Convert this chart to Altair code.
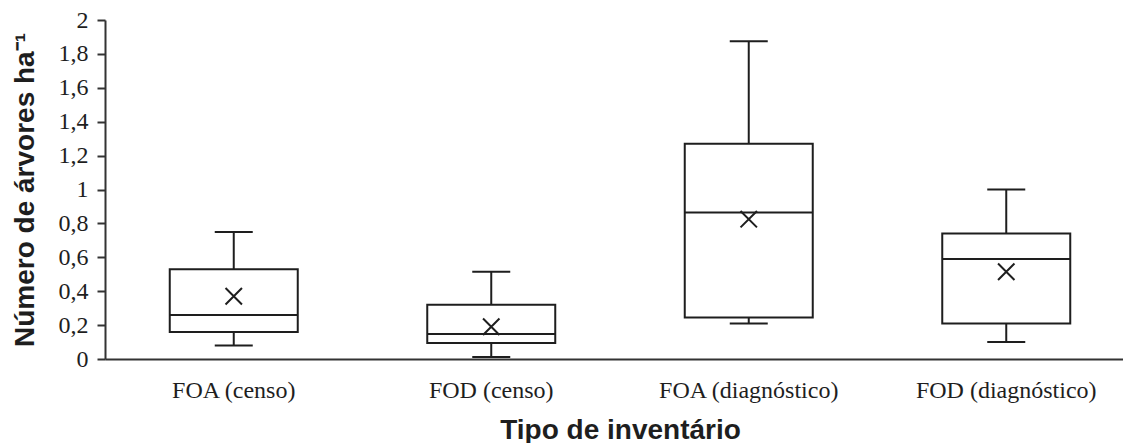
import altair as alt
import pandas as pd

# Box-plot summary per inventory type (trees per hectare)
categories = ["FOA (censo)", "FOD (censo)", "FOA (diagnóstico)", "FOD (diagnóstico)"]
minimum = [0.08, 0.012, 0.21, 0.10]
q1 = [0.16, 0.095, 0.245, 0.21]
median = [0.26, 0.148, 0.865, 0.59]
q3 = [0.53, 0.32, 1.27, 0.74]
maximum = [0.75, 0.515, 1.875, 1.0]
mean = [0.37, 0.19, 0.825, 0.515]

y_ticks = [0, 0.2, 0.4, 0.6, 0.8, 1.0, 1.2, 1.4, 1.6, 1.8, 2.0]

df = pd.DataFrame({
    "tipo": categories,
    "min": minimum,
    "q1": q1,
    "med": median,
    "q3": q3,
    "max": maximum,
    "mean": mean,
})

INK = "#1e1e1e"
LW = 2

x_enc = alt.X(
    "tipo:N",
    sort=categories,
    scale=alt.Scale(range=[0, 1030], paddingInner=0, paddingOuter=0),
    axis=alt.Axis(
        title="Tipo de inventário",
        titleFont="Liberation Sans",
        titleFontSize=28,
        titleFontWeight="bold",
        titleColor=INK,
        titleBaseline="alphabetic",
        titleY=79,
        labelFont="Liberation Serif",
        labelFontSize=24,
        labelColor=INK,
        labelAngle=0,
        labelPadding=19,
        labelLimit=400,
        ticks=False,
        domainColor="#333333",
        domainWidth=2,
    ),
)

y_scale = alt.Scale(domain=[0, 2], nice=False, zero=True)
y_axis = alt.Axis(
    title="Número de árvores ha⁻¹",
    titleFont="Liberation Sans",
    titleFontSize=28,
    titleFontWeight="bold",
    titleColor=INK,
    titleAngle=270,
    titleBaseline="alphabetic",
    titleAlign="center",
    titleX=-72,
    titleY=169.5,
    values=y_ticks,
    tickCount=len(y_ticks) + 5,  # keep every listed value
    labelExpr="replace(format(datum.value, '.1~f'), '.', ',')",
    labelFont="Liberation Serif",
    labelFontSize=24,
    labelColor=INK,
    labelPadding=9,
    labelOverlap=False,
    labelFlush=False,
    tickSize=8,
    tickWidth=2,
    tickColor="#333333",
    domainColor="#333333",
    domainWidth=2,
    grid=False,
)


def y_of(field):
    return alt.Y(field, type="quantitative", scale=y_scale, axis=y_axis)


base = alt.Chart(df)

whisker = base.mark_rule(color=INK, strokeWidth=LW).encode(
    x=x_enc,
    y=y_of("min"),
    y2="max:Q",
)

box = base.mark_bar(size=128, fill="white", stroke=INK, strokeWidth=LW).encode(
    x=x_enc,
    y=y_of("q1"),
    y2="q3:Q",
)

median_line = base.mark_tick(size=128, thickness=LW, color=INK, opacity=1).encode(
    x=x_enc,
    y=y_of("med"),
)

cap_low = base.mark_tick(size=38, thickness=LW, color=INK, opacity=1).encode(
    x=x_enc,
    y=y_of("min"),
)

cap_high = base.mark_tick(size=38, thickness=LW, color=INK, opacity=1).encode(
    x=x_enc,
    y=y_of("max"),
)

mean_mark = base.mark_point(
    shape="M-1,-1L1,1M-1,1L1,-1",
    size=270,
    filled=False,
    stroke=INK,
    strokeWidth=LW,
    opacity=1,
).encode(
    x=x_enc,
    y=y_of("mean"),
)

chart = (
    alt.layer(whisker, box, median_line, cap_low, cap_high, mean_mark)
    .properties(
        width=1018,
        height=339,
        autosize=alt.AutoSizeParams(type="none"),
        padding={"left": 105, "top": 20, "right": 0, "bottom": 84},
        background="white",
    )
    .configure_view(stroke=None)
)

chart.save("out.html", embed_options={"renderer": "svg", "actions": False})
